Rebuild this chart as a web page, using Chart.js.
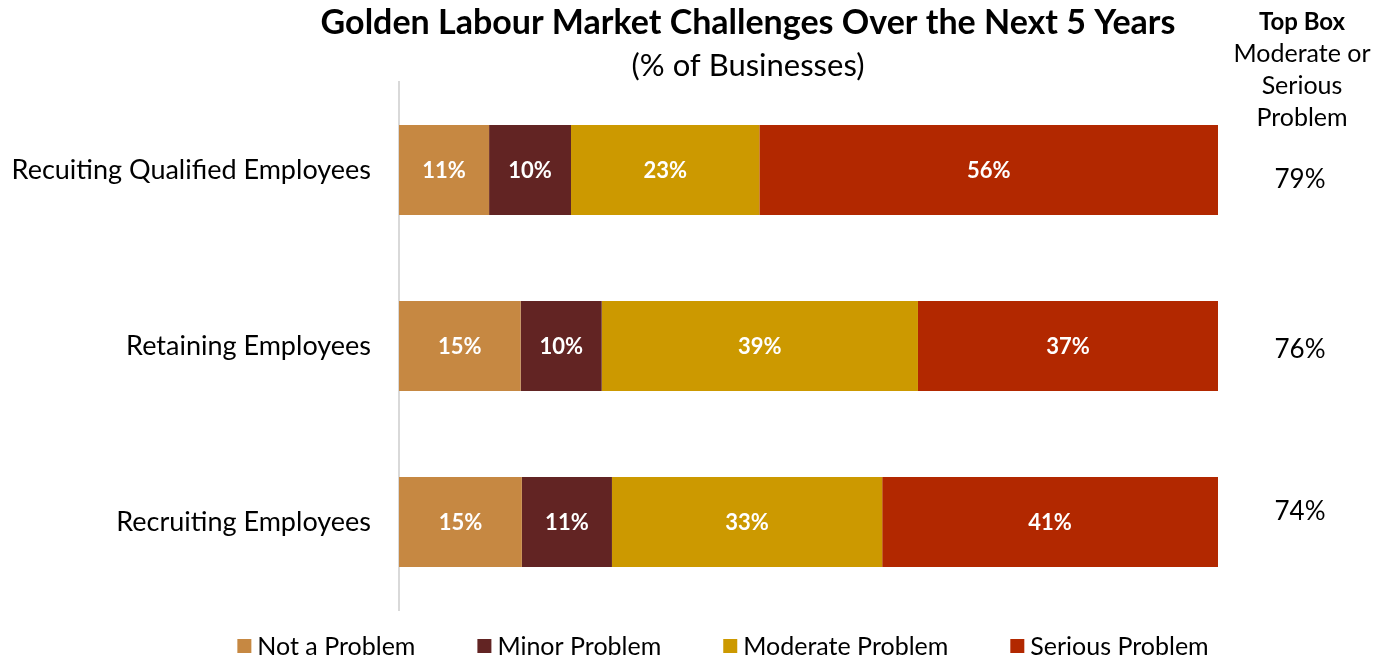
<!DOCTYPE html>
<html>
<head>
<meta charset="utf-8">
<script src="https://cdn.jsdelivr.net/npm/chart.js@4.4.1/dist/chart.umd.min.js"></script>
<style>
  html, body { margin: 0; padding: 0; background: #ffffff; }
  #wrap { width: 1385px; height: 658px; position: relative; }
</style>
</head>
<body>
<div id="wrap"><canvas id="c" width="1385" height="658"></canvas></div>
<script>
// Survey categories and responses (% of businesses)
const categories = ['Recuiting Qualified Employees', 'Retaining Employees', 'Recruiting Employees'];
const seriesNames = ['Not a Problem', 'Minor Problem', 'Moderate Problem', 'Serious Problem'];
const notAProblem = [11, 15, 15];
const minorProblem = [10, 10, 11];
const moderateProblem = [23, 39, 33];
const seriousProblem = [56, 37, 41];
const seriesColors = ['#C68842', '#622423', '#CC9900', '#B22800'];

const chartTitle = 'Golden Labour Market Challenges Over the Next 5 Years';
const chartSubtitle = '(% of Businesses)';
const topBoxHeader = ['Top Box', 'Moderate or', 'Serious', 'Problem'];

const FONT = 'Lato, "Open Sans", sans-serif';

const seriesValues = [notAProblem, minorProblem, moderateProblem, seriousProblem];
// each row is drawn as a 100% stack
const rowTotals = categories.map((_, i) => seriesValues.reduce((s, arr) => s + arr[i], 0));
const topBox = categories.map((_, i) => moderateProblem[i] + seriousProblem[i]);

const datasets = seriesNames.map((name, k) => ({
  label: name,
  data: seriesValues[k].map((v, i) => v / rowTotals[i] * 100),
  rawValues: seriesValues[k],
  backgroundColor: seriesColors[k],
  borderWidth: 0,
  barPercentage: 1.0,
  categoryPercentage: 0.51
}));

// value labels inside each segment
const segmentLabels = {
  id: 'segmentLabels',
  afterDatasetsDraw(chart) {
    const ctx = chart.ctx;
    ctx.save();
    ctx.font = 'bold 22px ' + FONT;
    ctx.fillStyle = '#ffffff';
    ctx.textAlign = 'center';
    ctx.textBaseline = 'middle';
    chart.data.datasets.forEach((ds, k) => {
      const meta = chart.getDatasetMeta(k);
      meta.data.forEach((bar, i) => {
        const cx = (bar.x + bar.base) / 2;
        ctx.fillText(ds.rawValues[i] + '%', cx, bar.y + 1);
      });
    });
    ctx.restore();
  }
};

// titles, top-box column and legend
const decorations = {
  id: 'decorations',
  afterDraw(chart) {
    const ctx = chart.ctx;
    const y = chart.scales.y;
    ctx.save();
    ctx.fillStyle = '#000000';
    ctx.textBaseline = 'middle';
    ctx.textAlign = 'center';

    ctx.font = 'bold 34px ' + FONT;
    ctx.fillText(chartTitle, 748, 23);
    ctx.font = '31px ' + FONT;
    ctx.fillText(chartSubtitle, 748, 66);

    const colX = 1302;
    ctx.font = 'bold 24px ' + FONT;
    ctx.fillText(topBoxHeader[0], colX, 22);
    ctx.font = '25px ' + FONT;
    ctx.fillText(topBoxHeader[1], colX, 54);
    ctx.fillText(topBoxHeader[2], colX, 86);
    ctx.fillText(topBoxHeader[3], colX, 118);

    const topBoxOffsets = [10, 4, -10];
    ctx.font = '26px ' + FONT;
    topBox.forEach((v, i) => {
      ctx.fillText(v + '%', colX - 2, y.getPixelForValue(i) + topBoxOffsets[i]);
    });

    // legend
    ctx.font = '25px ' + FONT;
    ctx.textAlign = 'left';
    const box = 14, gapText = 6, gapItem = 62, legendY = 646;
    const widths = seriesNames.map(n => box + gapText + ctx.measureText(n).width);
    const total = widths.reduce((a, b) => a + b, 0) + gapItem * (seriesNames.length - 1);
    let x = 723 - total / 2;
    seriesNames.forEach((n, k) => {
      ctx.fillStyle = seriesColors[k];
      ctx.fillRect(x, legendY - box / 2, box, box);
      ctx.fillStyle = '#000000';
      ctx.fillText(n, x + box + gapText, legendY + 1);
      x += widths[k] + gapItem;
    });
    ctx.restore();
  }
};

new Chart(document.getElementById('c'), {
  type: 'bar',
  data: { labels: categories, datasets },
  options: {
    indexAxis: 'y',
    responsive: false,
    animation: false,
    events: [],
    layout: { padding: { top: 82, right: 167, bottom: 48, left: 0 } },
    plugins: {
      legend: { display: false },
      title: { display: false },
      tooltip: { enabled: false }
    },
    scales: {
      x: {
        stacked: true,
        min: 0,
        max: 100,
        display: false
      },
      y: {
        stacked: true,
        grid: { display: false, drawTicks: false },
        border: { display: true, color: '#d9d9d9', width: 2 },
        ticks: {
          color: '#000000',
          font: { family: FONT, size: 27 },
          padding: 28
        },
        afterFit(scale) { scale.width = 399; }
      }
    }
  },
  plugins: [segmentLabels, decorations]
});
</script>
</body>
</html>
